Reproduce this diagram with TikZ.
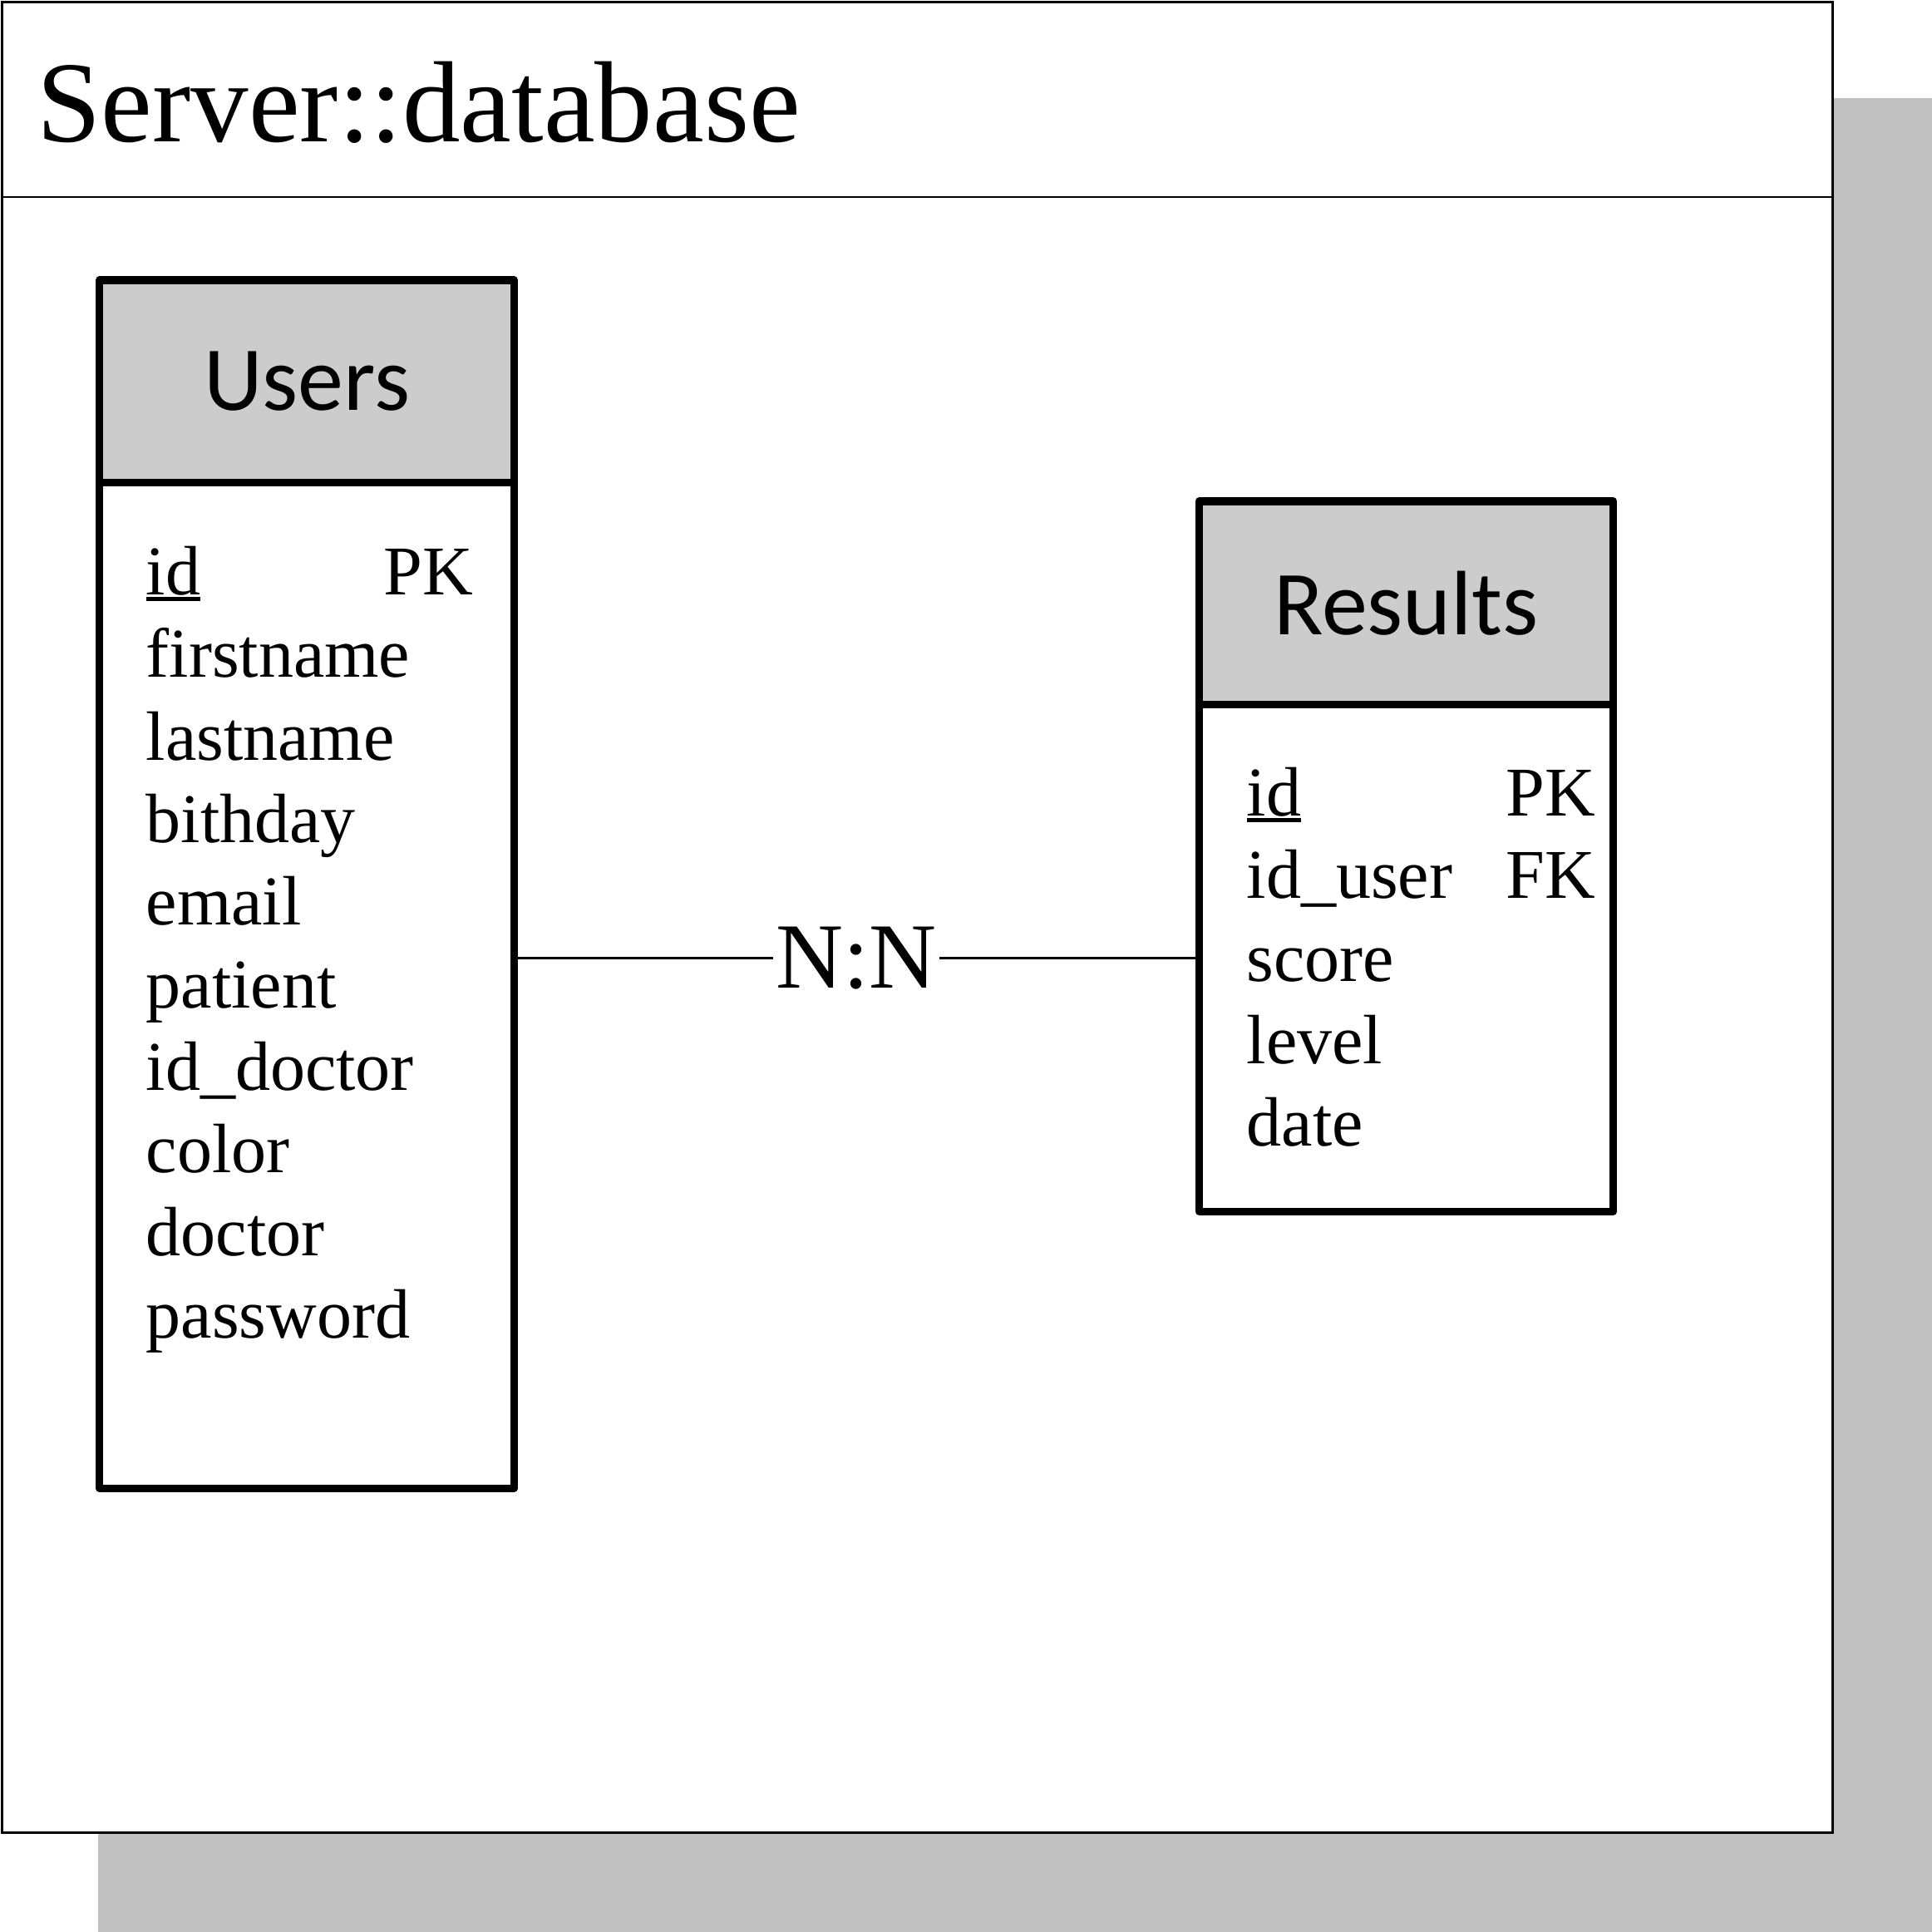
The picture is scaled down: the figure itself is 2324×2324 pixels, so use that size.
\documentclass[tikz,border=0pt]{standalone}
\usepackage{fontspec}
\setmainfont{Liberation Serif}
\newfontfamily\headfont{Carlito}
\usetikzlibrary{calc}
\usetikzlibrary{positioning}
\definecolor{headgray}{HTML}{CCCCCC}
\definecolor{shadowgray}{HTML}{C0C0C0}
\newcommand{\keyname}[1]{\setbox0\hbox{#1}\rlap{\rule[-0.09em]{\wd0}{0.05em}}#1}
\tikzset{tablehead/.style={draw, line width=2.6pt, line join=round, fill=headgray,
        minimum width=4.98cm, inner sep=0pt,
        font=\headfont\fontsize{31.3}{36}\selectfont},
    tablebody/.style={draw, line width=2.6pt, line join=round, fill=white,
        minimum width=4.98cm, inner sep=0pt},
    attr/.style={anchor=base west, inner sep=0pt, font=\fontsize{23.9}{28}\selectfont}
}

\begin{document}
\begin{tikzpicture}[x=0.01cm, y=-0.01cm]

\useasboundingbox (0,0) rectangle (2324,2324);

\node[fill=shadowgray, inner sep=0pt, minimum size=22.05cm] (shadow) at (1221.5,1221.5) {};
\node[draw, fill=white, line width=0.85pt, inner sep=0pt, minimum size=22.01cm] (frame) at (1103.5,1103.5) {};
\coordinate (titleline) at (0,237);
\draw[line width=0.85pt] (frame.west |- titleline) -- (frame.east |- titleline);
\node[anchor=base west, inner sep=0pt, font=\fontsize{39.5}{44}\selectfont] (title) at (44,170) {Server::database};

% users table
\node[tablehead, minimum height=2.44cm] (usershead) at (369,459) {Users};
\node[tablebody, minimum height=12.09cm] (usersbody) at (369,1185.5) {};

\node[attr] (uattr1) at (175,715) {\keyname{id}};
\node[attr] (ukey1) at (461,715) {PK};
\node[attr] (uattr2) at (175,814) {firstname};
\node[attr] (uattr3) at (175,914) {lastname};
\node[attr] (uattr4) at (175,1013) {bithday};
\node[attr] (uattr5) at (175,1112) {email};
\node[attr] (uattr6) at (175,1212) {patient};
\node[attr] (uattr7) at (175,1311) {id\_doctor};
\node[attr] (uattr8) at (175,1410) {color};
\node[attr] (uattr9) at (175,1510) {doctor};
\node[attr] (uattr10) at (175,1609) {password};

% results table
\node[tablehead, minimum height=2.45cm] (resultshead) at (1691.5,725.5) {Results};
\node[tablebody, minimum height=6.09cm] (resultsbody) at (1691.5,1152.5) {};

\node[attr] (rattr1) at (1499,981) {\keyname{id}};
\node[attr] (rkey1) at (1811,981) {PK};
\node[attr] (rattr2) at (1499,1080) {id\_user};
\node[attr] (rkey2) at (1811,1080) {FK};
\node[attr] (rattr3) at (1499,1180) {score};
\node[attr] (rattr4) at (1499,1279) {level};
\node[attr] (rattr5) at (1499,1378) {date};

\draw[line width=0.85pt] (usersbody.east |- resultsbody.west) -- node[midway, fill=white, inner sep=1pt, font=\fontsize{31.9}{36}\selectfont] (relation) {N:N} (resultsbody.west);

\end{tikzpicture}
\end{document}
